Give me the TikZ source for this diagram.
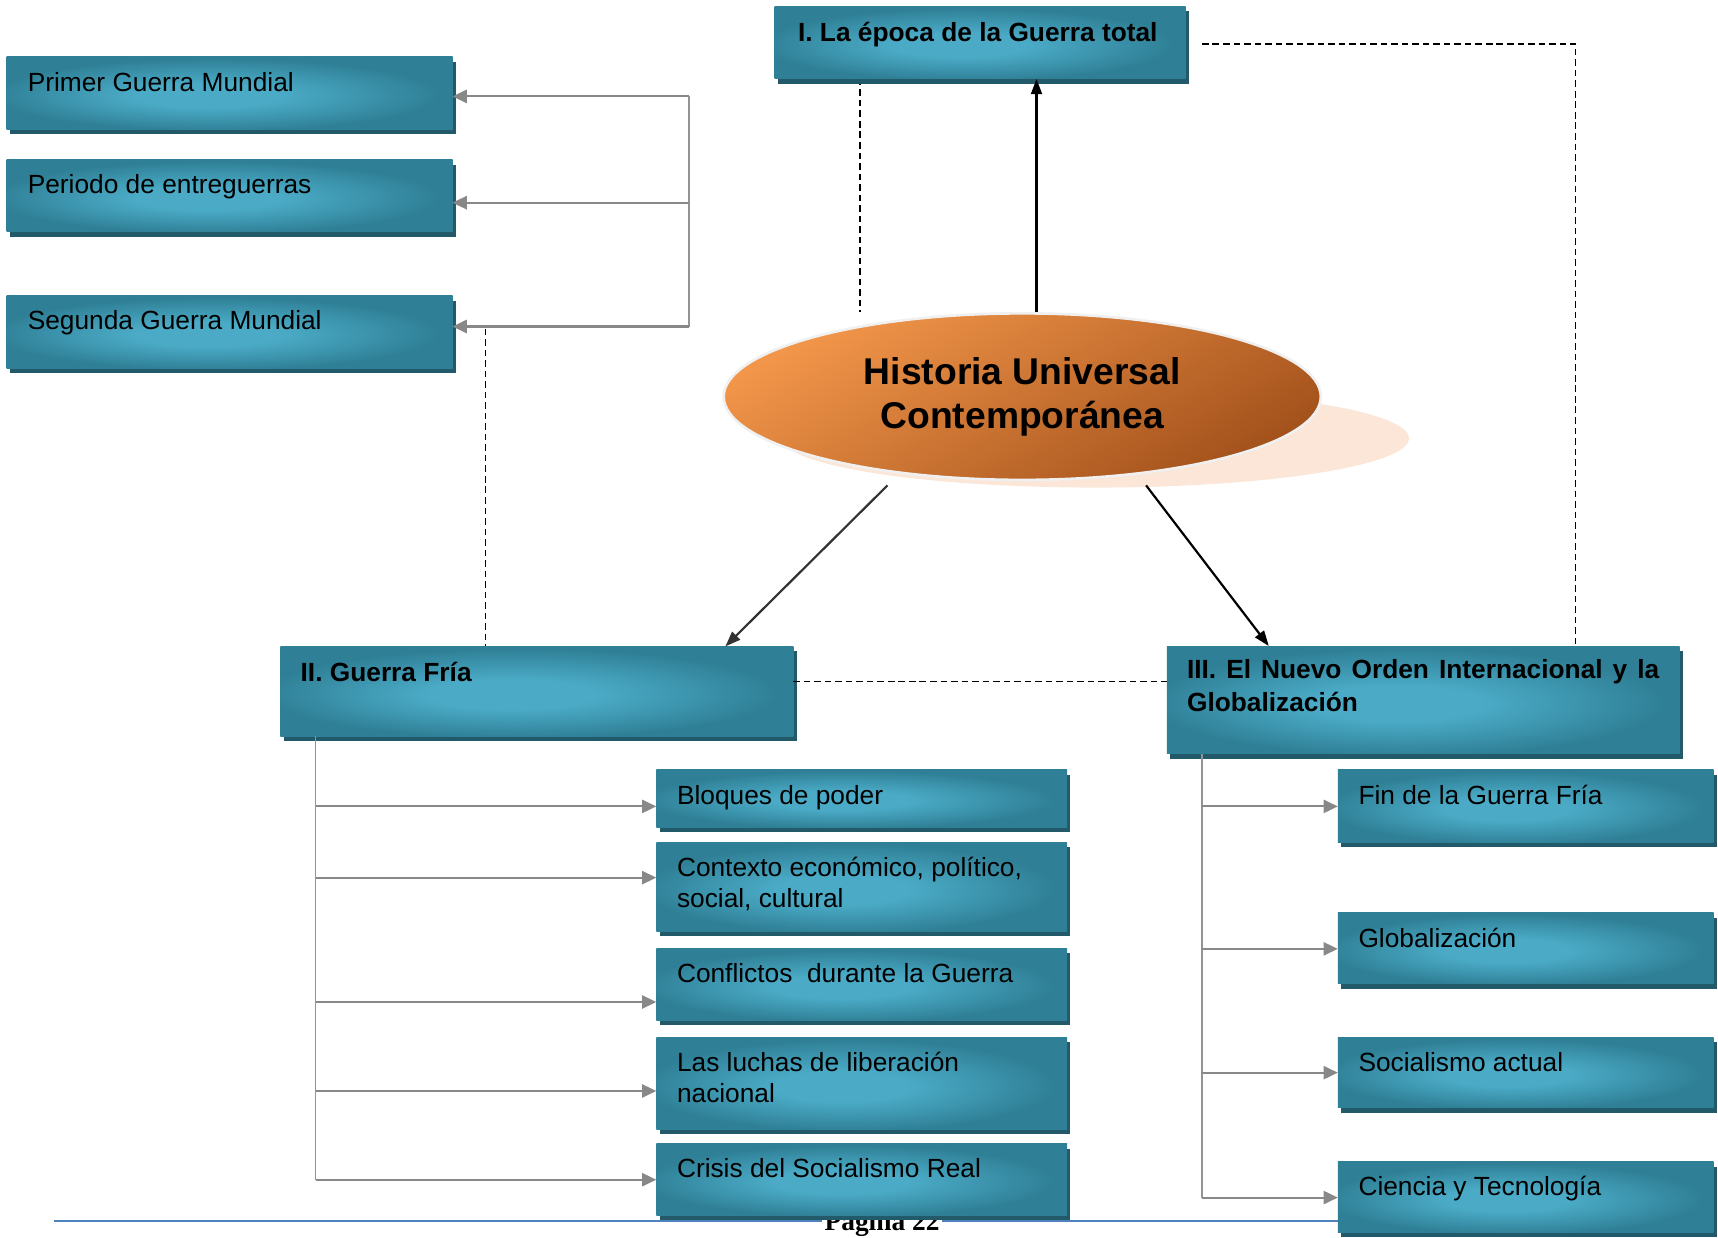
\documentclass[tikz,border=0pt]{standalone}
\usepackage{fontspec}
\setmainfont{Liberation Sans}
\newfontfamily\footfont{Liberation Serif}
\usetikzlibrary{arrows.meta,shadows,calc,backgrounds,shapes.geometric}
\definecolor{tealD}{HTML}{2F8096}
\definecolor{tealL}{HTML}{4BABC7}
\definecolor{tealS}{HTML}{235A69}
\definecolor{orL}{HTML}{F2964A}
\definecolor{orD}{HTML}{A4521C}
\definecolor{peach}{HTML}{FBE6D8}
\definecolor{footblue}{HTML}{4F81BD}
\definecolor{arrgray}{HTML}{888888}
\pgfdeclareradialshading{tealsh}{\pgfpoint{-3bp}{-2bp}}{color(0bp)=(tealL); color(8bp)=(tealL); color(25bp)=(tealD); color(50bp)=(tealD)}
\tikzset{
  tbox/.style={rectangle, inner sep=0pt, outer sep=0pt, anchor=north west, shade, shading=tealsh,
    drop shadow={shadow xshift=1.5pt, shadow yshift=-2.2pt, fill=tealS, opacity=1}},
  btxt/.style={anchor=base west, inner sep=0pt, font=\fontsize{12}{14}\selectfont},
  bbtxt/.style={anchor=base west, inner sep=0pt, font=\fontsize{12}{15}\selectfont\bfseries},
  gline/.style={draw=arrgray!90, line width=0.8pt},
  garrow/.style={draw=arrgray, line width=0.95pt, -{Triangle[length=6.5pt,width=6pt]}},
  karrow/.style={draw=black, line width=1pt, -{Triangle[length=7pt,width=5pt]}},
  dline/.style={draw=black, line width=0.8pt, dash pattern=on 3pt off 1.8pt},
}
\begin{document}
\begin{tikzpicture}[x=0.5pt,y=-0.5pt]
\useasboundingbox (0,0) rectangle (1568,1129);

% footer (partly covered by boxes)
\coordinate (ft1) at (49,1114.5);
\coordinate (ft2) at (1230,1114.5);
\draw[footblue, line width=0.8pt] (ft1) -- (ft2);
\node[fill=white, inner xsep=1pt, inner ysep=0pt, anchor=base, font=\footfont\bfseries\fontsize{12.5}{14}\selectfont] (pg) at (805,1123) {Página 22};

% shadow of the ellipse
\fill[peach] (1000,400) ellipse [x radius=143pt, y radius=22.5pt];
% central ellipse
\node[ellipse, minimum width=272.5pt, minimum height=76pt, inner sep=0pt,
  top color=orL, bottom color=orD, shading angle=30, draw=white!88!gray, line width=1.2pt,
  align=center, font=\fontsize{17}{20}\selectfont\bfseries] (H) at (933,362) {Historia Universal\\Contemporánea};

% boxes
\node[tbox, minimum width=187.5pt, minimum height=33pt] (T1) at (707,6) {};
\node[bbtxt] (T1t) at ($(T1.north west)+(21,32)$) {I. La época de la Guerra total};

\node[tbox, minimum width=203.5pt, minimum height=33pt] (P1) at (6,52) {};
\node[btxt] (P1t) at ($(P1.north west)+(19,31.5)$) {Primer Guerra Mundial};
\node[tbox, minimum width=203.5pt, minimum height=32.75pt] (P2) at (6,146) {};
\node[btxt] (P2t) at ($(P2.north west)+(19,31)$) {Periodo de entreguerras};
\node[tbox, minimum width=203.5pt, minimum height=33pt] (P3) at (6,270) {};
\node[btxt] (P3t) at ($(P3.north west)+(19,31)$) {Segunda Guerra Mundial};

\node[tbox, minimum width=234pt, minimum height=41pt] (GF) at (256,590) {};
\node[bbtxt] (GFt) at ($(GF.north west)+(18,32)$) {II. Guerra Fría};

\node[tbox, minimum width=234pt, minimum height=49.2pt] (N3) at (1065,589.6) {};
\node[bbtxt] (N3t) at ($(N3.north west)+(18,30)$) {\parbox[t]{215.5pt}{III. El Nuevo Orden Internacional y la Globalización}};

\node[tbox, minimum width=187.5pt, minimum height=26.2pt] (B1) at (599,702.6) {};
\node[btxt] (B1t) at ($(B1.north west)+(18.5,32)$) {Bloques de poder};
\node[tbox, minimum width=187.5pt, minimum height=40.65pt] (B2) at (599,768.7) {};
\node[btxt] (B2t) at ($(B2.north west)+(18.5,31.5)$) {\parbox[t]{180pt}{\raggedright Contexto económico, político,\\social, cultural}};
\node[tbox, minimum width=187.5pt, minimum height=32.7pt] (B3) at (599,865.6) {};
\node[btxt] (B3t) at ($(B3.north west)+(18.5,31.5)$) {Conflictos\ \ durante la Guerra};
\node[tbox, minimum width=187.5pt, minimum height=41.85pt] (B4) at (599,947) {};
\node[btxt] (B4t) at ($(B4.north west)+(18.5,31)$) {\parbox[t]{180pt}{\raggedright Las luchas de liberación\\nacional}};
\node[tbox, minimum width=187.5pt, minimum height=32.5pt] (B5) at (599,1044) {};
\node[btxt] (B5t) at ($(B5.north west)+(18.5,31)$) {Crisis del Socialismo Real};

\node[tbox, minimum width=171.5pt, minimum height=33.2pt] (C1) at (1221,702.6) {};
\node[btxt] (C1t) at ($(C1.north west)+(18.5,32)$) {Fin de la Guerra Fría};
\node[tbox, minimum width=171.5pt, minimum height=32.5pt] (C2) at (1221,833) {};
\node[btxt] (C2t) at ($(C2.north west)+(18.5,32)$) {Globalización};
\node[tbox, minimum width=171.5pt, minimum height=32pt] (C3) at (1221,947) {};
\node[btxt] (C3t) at ($(C3.north west)+(18.5,30.5)$) {Socialismo actual};
\node[tbox, minimum width=171.5pt, minimum height=32.25pt] (C4) at (1221,1060.5) {};
\node[btxt] (C4t) at ($(C4.north west)+(18.5,30.5)$) {Ciencia y Tecnología};

% left tree (towards the three wars)
\coordinate (t1) at ($(P1.north east)+(216,36)$);
\coordinate (t2) at ($(P2.north east)+(216,39)$);
\coordinate (t3) at ($(P3.north east)+(216,28)$);
\draw[gline] (t1) -- (t3);
\draw[garrow] (t1) -- (t1 -| P1.east);
\draw[garrow] (t2) -- (t2 -| P2.east);
\draw[garrow] (t3) -- (t3 -| P3.east);

% Guerra Fria tree
\coordinate (g0) at ($(GF.south west)+(32,0)$);
\coordinate (g1) at ($(g0 |- B1.north west)+(0,33.4)$);
\coordinate (g2) at ($(g0 |- B2.north west)+(0,32.3)$);
\coordinate (g3) at ($(g0 |- B3.north west)+(0,48.9)$);
\coordinate (g4) at ($(g0 |- B4.north west)+(0,48.7)$);
\coordinate (g5) at ($(g0 |- B5.north west)+(0,32.7)$);
\draw[gline] (g0) -- (g5);
\draw[garrow] (g1) -- (g1 -| B1.west);
\draw[garrow] (g2) -- (g2 -| B2.west);
\draw[garrow] (g3) -- (g3 -| B3.west);
\draw[garrow] (g4) -- (g4 -| B4.west);
\draw[garrow] (g5) -- (g5 -| B5.west);

% Nuevo Orden tree
\coordinate (n0) at ($(N3.south west)+(31.7,0)$);
\coordinate (n1) at ($(n0 |- C1.north west)+(0,33.4)$);
\coordinate (n2) at ($(n0 |- C2.north west)+(0,33)$);
\coordinate (n3) at ($(n0 |- C3.north west)+(0,32)$);
\coordinate (n4) at ($(n0 |- C4.north west)+(0,32.5)$);
\draw[gline] (n0) -- (n4);
\draw[garrow] (n1) -- (n1 -| C1.west);
\draw[garrow] (n2) -- (n2 -| C2.west);
\draw[garrow] (n3) -- (n3 -| C3.west);
\draw[garrow] (n4) -- (n4 -| C4.west);

% dashed links
\begin{scope}[on background layer]
\coordinate (dA) at ($(T1.south west)+(78,0)$);
\draw[dline] (dA) -- (dA |- H.north);
\end{scope}
\coordinate (dB) at ($(T1.north east)+(15,34)$);
\draw[dline] (dB) -| ($(N3.north west)+(373,0)$);
\coordinate (dC) at ($(GF.north east)+(0,32)$);
\draw[dline] (dC) -- (dC -| N3.west);
\coordinate (dD) at ($(P3.north east)+(30,30)$);
\draw[dline] (dD) -- (dD |- GF.north);

% black arrows from the centre
\coordinate (hu) at ($(H.north)+(13,0)$);
\draw[karrow] (hu) -- (hu |- T1.south);
\coordinate (hl) at ($(H.center)+(-123,81)$);
\draw[karrow, draw=black!80] (hl) -- ($(GF.north west)+(406,0)$);
\coordinate (hr) at ($(H.center)+(113,81)$);
\draw[karrow] (hr) -- ($(N3.north west)+(93,0)$);
\end{tikzpicture}
\end{document}
